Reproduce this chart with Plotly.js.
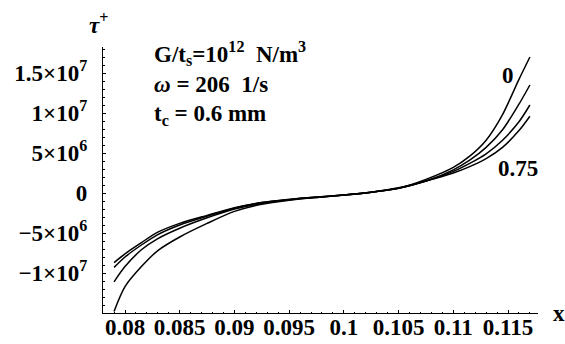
<!DOCTYPE html>
<html>
<head>
<meta charset="utf-8">
<script src="https://cdn.plot.ly/plotly-3.0.1.min.js"></script>
<style>html,body{margin:0;padding:0;background:#fff;}#chart{width:565px;height:344px;}</style>
</head>
<body>
<div id="chart"></div>
<script>
// x positions (m)
const xVals = [0.079, 0.080, 0.0815, 0.083, 0.085, 0.0875, 0.09, 0.0925, 0.095, 0.0975, 0.1, 0.1025, 0.105, 0.1075, 0.11, 0.1115, 0.113, 0.1145, 0.116, 0.117];
// tau+ values (units of 1e6 N/m^2) for parameter 0, 0.25, 0.5, 0.75
const tau_0    = [-14.8, -11.7, -9.2, -7.2, -5.5, -3.8, -2.3, -1.4, -0.9, -0.55, -0.25, 0.1, 0.6, 1.7, 3.2, 4.6, 6.6, 9.8, 14.2, 17.0];
const tau_025  = [-11.1, -9.2, -7.1, -5.7, -4.4, -3.1, -2.0, -1.3, -0.85, -0.55, -0.25, 0.1, 0.6, 1.5, 2.9, 4.1, 5.7, 7.9, 11.1, 13.5];
const tau_05   = [-9.3, -8.0, -6.5, -5.2, -4.0, -2.9, -1.9, -1.2, -0.8, -0.5, -0.25, 0.1, 0.6, 1.5, 2.7, 3.7, 4.9, 6.6, 8.9, 11.0];
const tau_075  = [-8.7, -7.6, -6.2, -4.9, -3.8, -2.8, -1.85, -1.2, -0.8, -0.5, -0.25, 0.1, 0.65, 1.5, 2.5, 3.3, 4.3, 5.7, 7.8, 9.6];
const seriesNames = ["0", "0.25", "0.5", "0.75"];
const xTickVals = [0.08, 0.085, 0.09, 0.095, 0.1, 0.105, 0.11, 0.115];
const xTickText = ["0.08", "0.085", "0.09", "0.095", "0.1", "0.105", "0.11", "0.115"];
const yTickVals = [-1e7, -5e6, 0, 5e6, 1e7, 1.5e7];
const yTickText = ["\u22121\u00d710<sup>7</sup>", "\u22125\u00d710<sup>6</sup>", "0", "5\u00d710<sup>6</sup>", "1\u00d710<sup>7</sup>", "1.5\u00d710<sup>7</sup>"];

const allSeries = [tau_0, tau_025, tau_05, tau_075];
const traces = allSeries.map((s, i) => ({
  x: xVals,
  y: s.map(v => v * 1e6),
  type: 'scatter',
  mode: 'lines',
  name: seriesNames[i],
  line: {color: '#000', width: 1.5, shape: 'spline', smoothing: 0.8},
  showlegend: false,
  hoverinfo: 'skip'
}));

const serif = '"Liberation Serif", "Times New Roman", serif';
const f = (size) => ({family: serif, size: size, color: '#000'});
const layout = {
  width: 565, height: 344,
  margin: {l: 103, r: 27, t: 47, b: 31},
  paper_bgcolor: '#fff', plot_bgcolor: '#fff',
  font: f(22),
  showlegend: false,
  xaxis: {
    range: [0.07799, 0.11774],
    tickvals: xTickVals, ticktext: xTickText.map(t => '<b>' + t + '</b>'),
    ticks: 'inside', ticklen: 3, tickwidth: 1, tickcolor: '#000',
    minor: {ticks: 'inside', ticklen: 1.5, dtick: 0.001, tick0: 0.08, tickcolor: '#000'},
    showline: true, linecolor: '#000', linewidth: 1.2, mirror: false,
    showgrid: false, zeroline: false,
    tickfont: f(23),
    ticklabelstandoff: -7
  },
  yaxis: {
    range: [-15e6, 18.25e6],
    tickvals: yTickVals, ticktext: yTickText.map(t => '<b>' + t + '</b>'),
    ticks: 'inside', ticklen: 3, tickwidth: 1, tickcolor: '#000',
    minor: {ticks: 'inside', ticklen: 1.5, dtick: 1e6, tick0: 0, tickcolor: '#000'},
    showline: true, linecolor: '#000', linewidth: 1.2, mirror: false,
    showgrid: false, zeroline: false,
    tickfont: f(23),
    ticklabelstandoff: 10
  },
  annotations: [
    {xref: 'paper', yref: 'paper', x: -0.0103, y: 1.0, yshift: 24, xanchor: 'center', yanchor: 'middle', showarrow: false,
     text: '<b><i>\u03c4</i><sup>+</sup></b>', font: f(23)},
    {xref: 'paper', yref: 'paper', x: 1.0, xshift: 21, y: 0, xanchor: 'center', yanchor: 'middle', showarrow: false,
     text: '<b>x</b>', font: f(23)},
    {xref: 'paper', yref: 'paper', x: 0.096, xshift: 7, y: 0.861, xanchor: 'left', yanchor: 'middle', align: 'left', showarrow: false,
     text: '<b>G/t<sub>s</sub>=10<sup>12</sup>  N/m<sup>3</sup></b><br><b><i>\u03c9</i> = 206  1/s</b><br><b>t<sub>c</sub> = 0.6 mm</b>', font: f(23)},
    {xref: 'x', yref: 'y', x: 0.11501, y: 14.75e6, xanchor: 'center', yanchor: 'middle', showarrow: false,
     text: '<b>0</b>', font: f(23)},
    {xref: 'x', yref: 'y', x: 0.11588, y: 3.06e6, xanchor: 'center', yanchor: 'middle', showarrow: false,
     text: '<b>0.75</b>', font: f(23)}
  ]
};
Plotly.newPlot('chart', traces, layout, {staticPlot: true, displayModeBar: false});
</script>
</body>
</html>
